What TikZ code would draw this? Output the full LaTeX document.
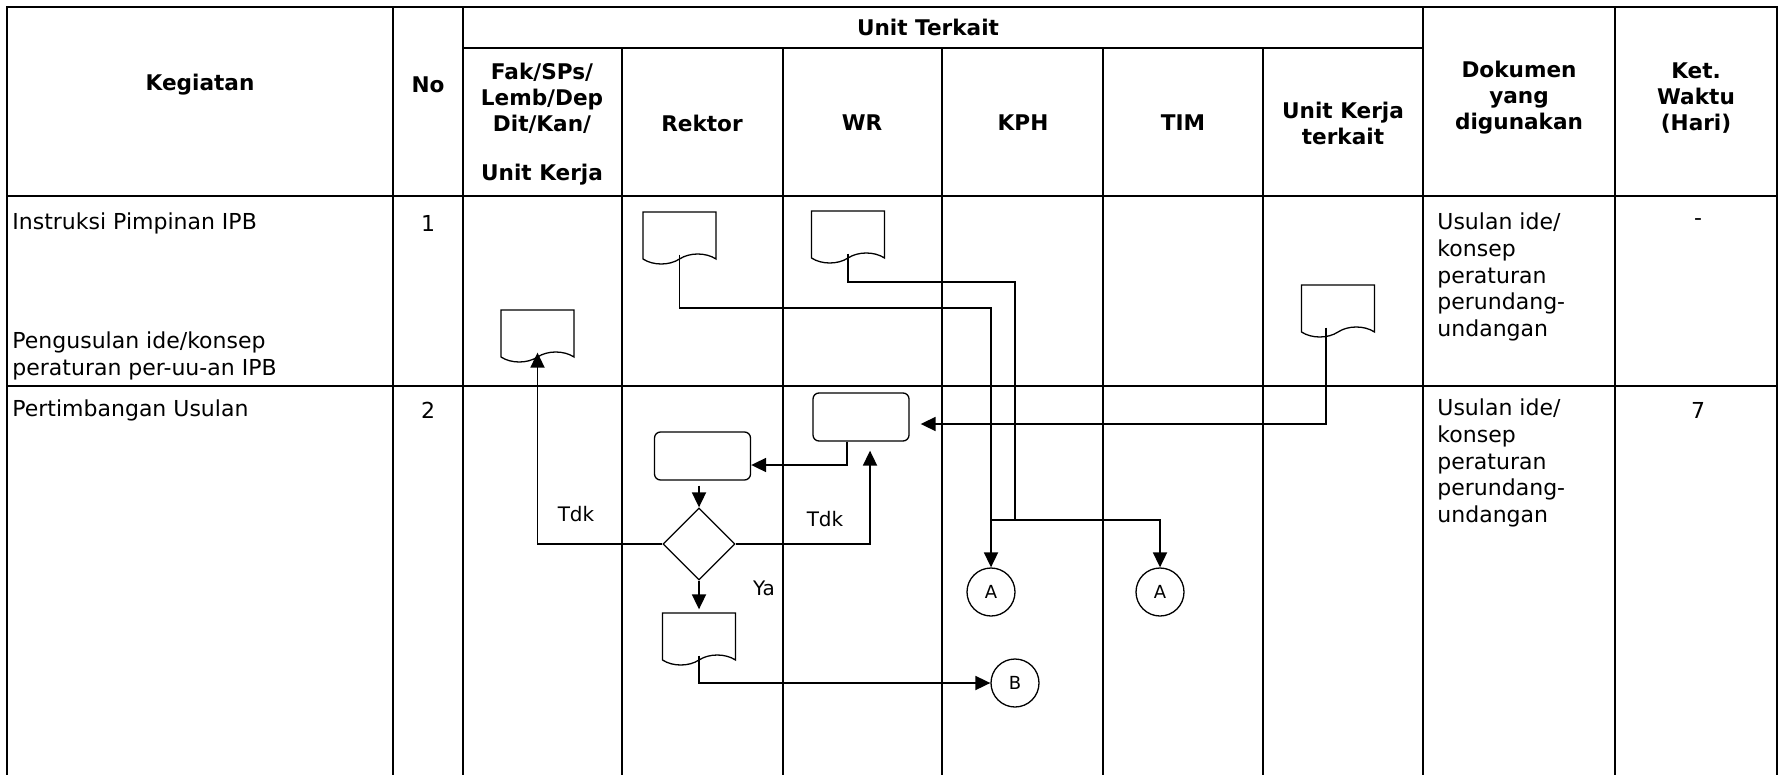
\documentclass[tikz,border=0pt]{standalone}
\usepackage{fontspec}
\setmainfont{DejaVu Sans}
\usetikzlibrary{shapes.geometric,shapes.symbols,arrows.meta,positioning,calc}

\begin{document}
\begin{tikzpicture}[
        x=0.5pt, y=-0.5pt,
        grid/.style={line width=1.1pt, line cap=rect},
        hdr/.style={font=\bfseries\fontsize{10.8}{13}\selectfont, align=center, inner sep=0pt},
        txt/.style={font=\fontsize{11}{13.3}\selectfont, align=left, anchor=west, inner sep=0pt},
        num/.style={font=\fontsize{11}{13.3}\selectfont, inner sep=0pt},
        doc/.style={
                tape,
                tape bend top=none,
                tape bend bottom=in and out,
                tape bend height=5pt,
                draw,
                line width=0.65pt,
                minimum width=36.5pt,
                minimum height=26pt,
                inner sep=0pt
            },
        proc/.style={
                rectangle,
                rounded corners=3pt,
                draw,
                line width=0.65pt,
                minimum width=48pt,
                minimum height=24pt,
                inner sep=0pt
            },
        decision/.style={diamond, draw, line width=0.65pt, minimum width=36pt, minimum height=36pt, inner sep=0pt},
        conn/.style={circle, draw, line width=0.65pt, minimum size=24pt, inner sep=0pt, font=\fontsize{9}{10}\selectfont},
        flow/.style={line width=0.9pt},
        arrow/.style={flow, -{Triangle[length=7.5pt,width=7pt]}},
        lbl/.style={font=\fontsize{10}{11}\selectfont, inner sep=0pt}
    ]
    \useasboundingbox (0,0) rectangle (1780,775);

    % table grid
    \draw[grid] (7,7) -- (1777,7);
    \draw[grid] (463,48) -- (1423,48);
    \draw[grid] (7,196) -- (1777,196);
    \draw[grid] (7,386) -- (1777,386);
    \foreach \x in {7,393,463,1423,1615,1777}
        \draw[grid] (\x,7) -- (\x,775);
    \foreach \x in {622,783,942,1103,1263}
        \draw[grid] (\x,48) -- (\x,775);

    % header
    \node[hdr] (hKeg) at (200,85) {Kegiatan};
    \node[hdr] (hNo) at (428,85) {No};
    \node[hdr] (hUnit) at (928,27) {Unit Terkait};
    \node[hdr] (hFak) at (542,98) {Fak/SPs/\\Lemb/Dep\\Dit/Kan/};
    \node[hdr] (hFakUK) at (542,175) {Unit Kerja};
    \node[hdr] (hRek) at (702,123) {Rektor};
    \node[hdr] (hWR) at (862,123) {WR};
    \node[hdr] (hKPH) at (1023,123) {KPH};
    \node[hdr] (hTIM) at (1183,123) {TIM};
    \node[hdr] (hUK) at (1343,123) {Unit Kerja\\terkait};
    \node[hdr] (hDok) at (1519,98) {Dokumen\\yang\\digunakan};
    \node[hdr] (hKet) at (1696,98) {Ket.\\Waktu\\(Hari)};

    % rows
    \node[txt] (keg1) at (12,223) {Instruksi Pimpinan IPB};
    \node[txt] (keg1b) at (12,356) {Pengusulan ide/konsep\\peraturan per-uu-an IPB};
    \node[txt] (keg2) at (12,410) {Pertimbangan Usulan};
    \node[num] (no1) at (428,223) {1};
    \node[num] (no2) at (428,410) {2};
    \node[txt] (dok1) at (1437,277) {Usulan ide/\\konsep\\peraturan\\perundang-\\undangan};
    \node[txt] (dok2) at (1437,463) {Usulan ide/\\konsep\\peraturan\\perundang-\\undangan};
    \node[num] (ket1) at (1698,222) {-};
    \node[num] (ket2) at (1698,410) {7};

    % flow shapes
    \node[doc] (docRek) at (679.5,233) {};
    \node[doc] (docWR) at (848,232) {};
    \node[doc] (docFak) at (537.5,331) {};
    \node[doc] (docUK) at (1338,306) {};
    \node[proc] (prWR) at (861,417) {};
    \node[proc] (prRek) at (702.5,456) {};
    \node[decision] (dec) at (699,544) {};
    \node[doc] (docOut) at (699,634) {};
    \node[conn] (cA1) at (991,592) {A};
    \node[conn] (cA2) at (1160,592) {A};
    \node[conn] (cB) at (1015,683) {B};

    \node[lbl] (tdkL) at (576,514) {Tdk};
    \node[lbl] (tdkR) at (825,519) {Tdk};
    \node[lbl] (ya) at (764,588) {Ya};

    % connectors
    \coordinate (bRek) at (991,308);
    \coordinate (bWR) at (1015,282);
    \coordinate (jA) at (1015,520);
    \draw[arrow] (docRek.south) |- (bRek) -- (cA1.north);
    \draw[flow, line width=0.7pt] (docWR.south) |- (bWR) -- (jA);
    \draw[arrow] (cA1.north |- jA) -| (cA2.north);
    \draw[arrow, shorten >=5.5pt] ([xshift=-6pt]docUK.south) |- ([yshift=-3.5pt]prWR.east);
    \draw[arrow] ([xshift=-7pt]prWR.south) |- ([yshift=-4.5pt]prRek.east);
    \draw[arrow, shorten <=2.5pt] (prRek.south -| dec.north) -- (dec.north);
    \draw[arrow] (dec.west) -| (docFak.south);
    \draw[arrow, shorten >=4.5pt] (dec.east) -| ([xshift=4.5pt]prWR.south);
    \draw[arrow, shorten >=1.5pt] (dec.south) -- (docOut.north);
    \draw[arrow] (docOut.south) |- (cB.west);
\end{tikzpicture}
\end{document}
